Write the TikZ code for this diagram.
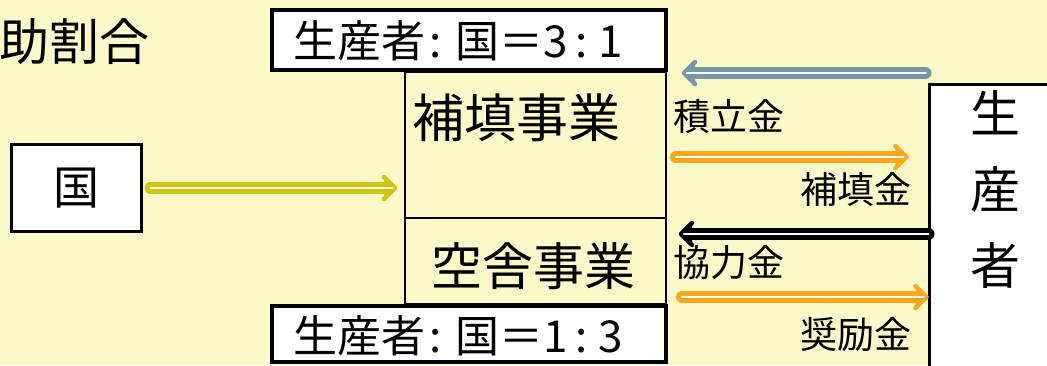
\documentclass[tikz,border=0pt]{standalone}
\usepackage{fontspec}
\setmainfont{Noto Sans CJK JP}
\usetikzlibrary{arrows.meta}
\newcommand\myfs[1]{\fontsize{#1}{#1}\selectfont}
\definecolor{bg}{RGB}{251,249,200}
\definecolor{ylw}{RGB}{208,197,10}
\definecolor{bgray}{RGB}{118,152,166}
\definecolor{orng}{RGB}{255,168,28}
\tikzset{
  wbox/.style={draw=black, fill=white, inner sep=0pt, outer sep=0pt},
  mbox/.style={draw=black, fill=bg, line width=2.5pt, inner sep=0pt, outer sep=0pt},
  shaft/.style={line width=12pt, line cap=round},
  stripe/.style={draw=white, line width=2.2pt, line cap=round},
  head/.style={line width=4.5pt, line cap=round, line join=round},
  lbl/.style={font=\myfs{37}, inner sep=0pt},
}
% #1 colour, #2 start, #3 end, #4 direction (+1 right, -1 left)
\newcommand\fatarrow[4]{%
  \draw[shaft, draw=#1] (#2) -- ([xshift=#4*-6pt]#3);
  \draw[head, draw=#1, fill=#1] ([xshift=#4*-11pt, yshift=-11pt]#3) -- (#3) -- ([xshift=#4*-11pt, yshift=11pt]#3);
  \draw[stripe] (#2) -- ([xshift=#4*-3pt]#3);
}
\begin{document}
\begin{tikzpicture}[x=1pt, y=-1pt]
\useasboundingbox (0,0) rectangle (1047,365);
\clip (0,0) rectangle (1047,365);
\fill[bg] (0,0) rectangle (1047,365);
% title
\node[anchor=east, inner sep=0pt, font=\myfs{50}] (title) at (150,42) {助割合};
% main boxes
\node[mbox, minimum width=261pt, minimum height=146pt] (hoten) at (535.5,145) {};
\node[mbox, minimum width=261pt, minimum height=86pt] (kusha) at (535.5,261) {};
\node[inner sep=0pt, font=\myfs{52}] (hotenT) at (516,118) {補填事業};
\node[inner sep=0pt, font=\myfs{51}] (kushaT) at (533,266) {空舎事業};
% ratio boxes
\node[wbox, line width=4pt, minimum width=394pt, minimum height=60pt] (ratio1) at (469,40) {};
\node[inner sep=0pt, font=\myfs{44}] (ratio1T) at (458,41) {生産者\hspace{4pt}:\hspace{14pt}国＝3\hspace{8pt}:\hspace{10pt}1};
\node[wbox, line width=4pt, minimum width=394pt, minimum height=56pt] (ratio2) at (469,334) {};
\node[inner sep=0pt, font=\myfs{44}] (ratio2T) at (458,336) {生産者\hspace{4pt}:\hspace{14pt}国＝1\hspace{8pt}:\hspace{10pt}3};
% kuni
\node[wbox, line width=3pt, minimum width=130pt, minimum height=87pt, font=\myfs{46}] (kuni) at (76.5,188) {国};
% producer
\node[wbox, line width=3pt, minimum width=130pt, minimum height=296pt] (seisan) at (994.5,232.5) {};
\node[inner sep=0pt, align=center, font=\fontsize{50}{76}\selectfont] (seisanT) at (995,189) {生\\産\\者};
% arrow end points
\coordinate (yS) at ([xshift=9pt]kuni.east);
\coordinate (yE) at ([xshift=-10pt]hoten.west |- kuni.east);
\coordinate (bS) at ([xshift=-4pt]seisan.west |- 0,73);
\coordinate (bE) at ([xshift=18pt]hoten.east |- 0,73);
\coordinate (o1S) at ([xshift=10pt]hoten.east |- 0,157);
\coordinate (o1E) at ([xshift=-23pt]seisan.west |- 0,157);
\coordinate (kS) at ([xshift=-1pt]seisan.west |- 0,234);
\coordinate (kE) at ([xshift=15pt]hoten.east |- 0,234);
\coordinate (o2S) at ([xshift=16pt]kusha.east |- 0,297);
\coordinate (o2E) at ([xshift=-3pt]seisan.west |- 0,297);
% arrows
\fatarrow{ylw}{yS}{yE}{1}
\fatarrow{bgray}{bS}{bE}{-1}
\fatarrow{orng}{o1S}{o1E}{1}
\fatarrow{black}{kS}{kE}{-1}
\fatarrow{orng}{o2S}{o2E}{1}
% labels
\node[lbl, anchor=west] (l1) at (673,116) {積立金};
\node[lbl, anchor=east] (l2) at (912,189) {補填金};
\node[lbl, anchor=west] (l3) at (673,262) {協力金};
\node[lbl, anchor=east] (l4) at (912,335) {奨励金};
\end{tikzpicture}
\end{document}
